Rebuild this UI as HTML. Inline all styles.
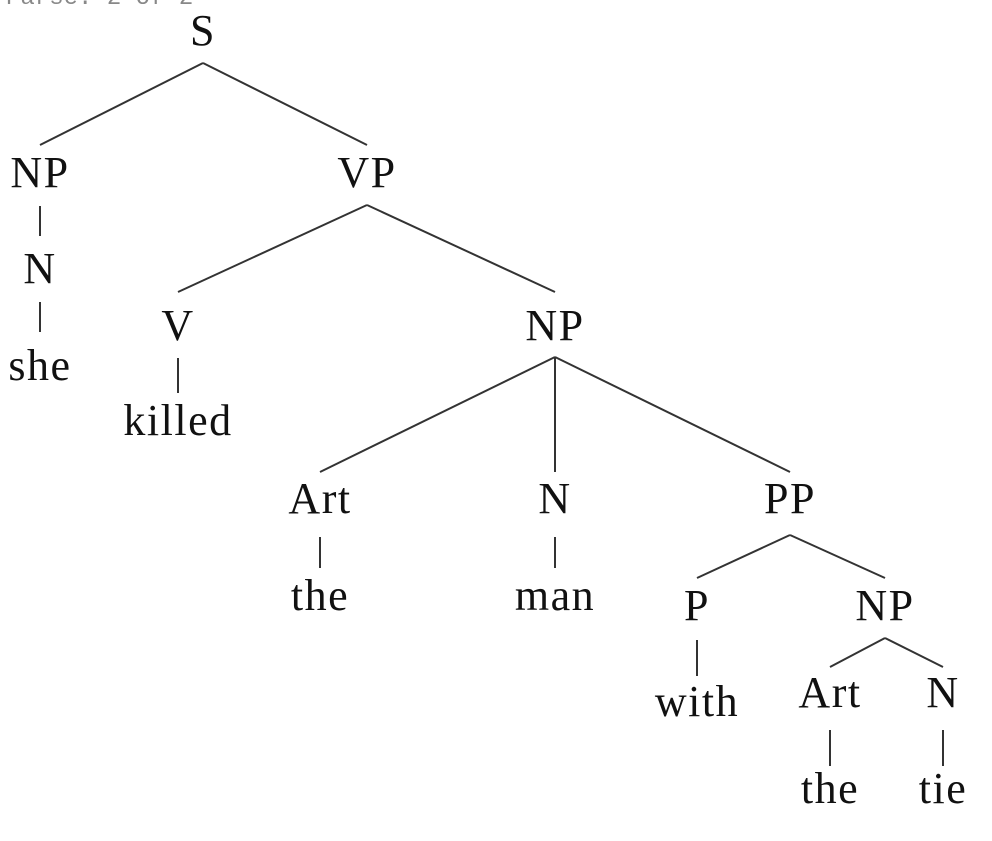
<!DOCTYPE html>
<html><head><meta charset="utf-8"><style>
html,body{margin:0;padding:0;background:#fff;width:992px;height:841px;overflow:hidden}
svg{display:block}
text{font-family:"Liberation Serif",serif;font-size:44px;letter-spacing:1.5px;fill:#111;text-anchor:middle}
.t{font-family:"Liberation Mono",monospace;font-size:24px;letter-spacing:0;fill:#888;text-anchor:start}
line{stroke:#333;stroke-width:2}
</style></head><body>
<svg width="992" height="841" viewBox="0 0 992 841">
<text class="t" x="6" y="4">Parse: 2 of 2</text>
<text x="203" y="45">S</text>
<line x1="203" y1="63" x2="40" y2="145"/><line x1="203" y1="63" x2="367" y2="145"/>
<text x="40" y="187">NP</text><text x="367" y="187">VP</text>
<line x1="40" y1="206" x2="40" y2="236"/>
<text x="40" y="283">N</text>
<line x1="40" y1="302" x2="40" y2="332"/>
<text x="40" y="380">she</text>
<line x1="367" y1="205" x2="178" y2="292"/><line x1="367" y1="205" x2="555" y2="292"/>
<text x="178" y="340">V</text><text x="555" y="340">NP</text>
<line x1="178" y1="358" x2="178" y2="393"/>
<text x="178" y="435">killed</text>
<line x1="555" y1="357" x2="320" y2="472"/><line x1="555" y1="357" x2="555" y2="472"/><line x1="555" y1="357" x2="790" y2="472"/>
<text x="320" y="513">Art</text><text x="555" y="513">N</text><text x="790" y="513">PP</text>
<line x1="320" y1="537" x2="320" y2="568"/><line x1="555" y1="537" x2="555" y2="568"/>
<text x="320" y="610">the</text><text x="555" y="610">man</text>
<line x1="790" y1="535" x2="697" y2="578"/><line x1="790" y1="535" x2="885" y2="578"/>
<text x="697" y="620">P</text><text x="885" y="620">NP</text>
<line x1="697" y1="640" x2="697" y2="676"/>
<text x="697" y="716">with</text>
<line x1="885" y1="638" x2="830" y2="667"/><line x1="885" y1="638" x2="943" y2="667"/>
<text x="830" y="707">Art</text><text x="943" y="707">N</text>
<line x1="830" y1="730" x2="830" y2="766"/><line x1="943" y1="730" x2="943" y2="766"/>
<text x="830" y="803">the</text><text x="943" y="803">tie</text>
</svg>
</body></html>
